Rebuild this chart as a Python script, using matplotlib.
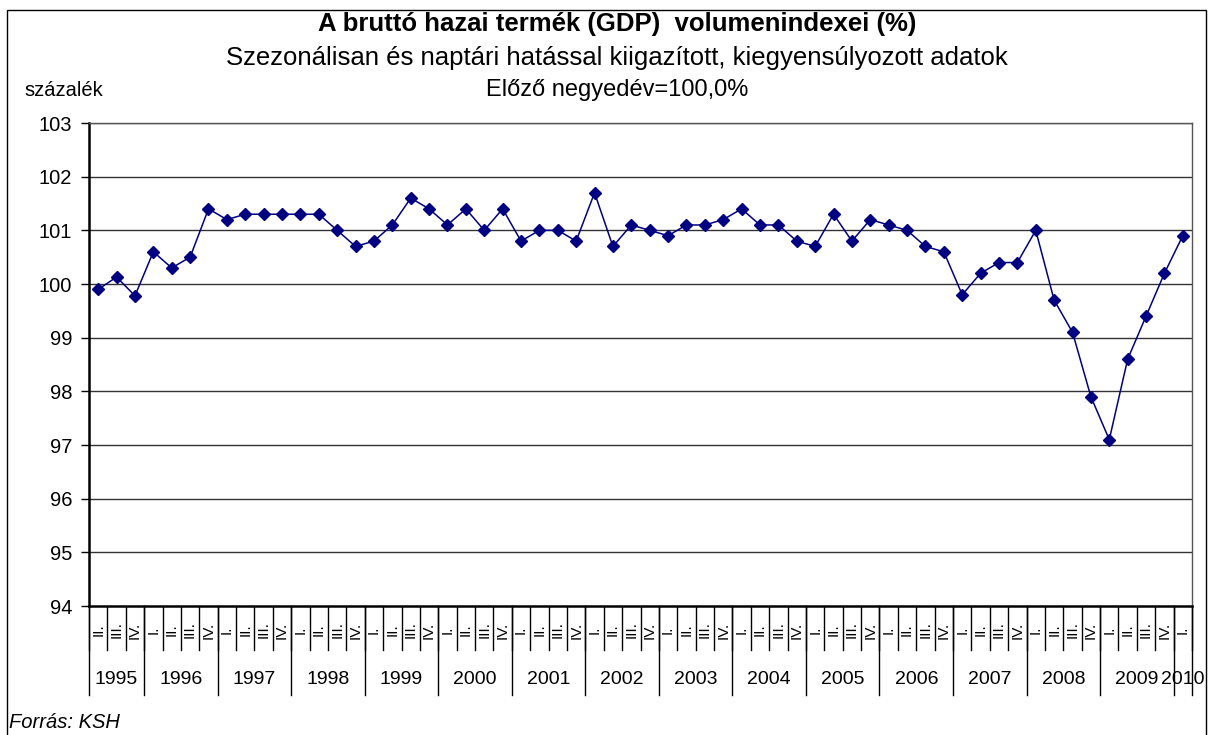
import matplotlib
matplotlib.use("Agg")
import matplotlib.pyplot as plt
from matplotlib.patches import Rectangle
from matplotlib.lines import Line2D
import matplotlib.transforms as mtransforms

plt.rcParams['font.family'] = ['Liberation Sans', 'DejaVu Sans']

years = ["1995", "1996", "1997", "1998", "1999", "2000", "2001", "2002",
         "2003", "2004", "2005", "2006", "2007", "2008", "2009", "2010"]
quarters_per_year = [3, 4, 4, 4, 4, 4, 4, 4, 4, 4, 4, 4, 4, 4, 4, 1]
first_quarter = [2, 1, 1, 1, 1, 1, 1, 1, 1, 1, 1, 1, 1, 1, 1, 1]
quarter_names = ["I.", "II.", "III.", "IV."]

values = [99.9, 100.13, 99.78,
          100.6, 100.3, 100.5, 101.4,
          101.2, 101.3, 101.3, 101.3,
          101.3, 101.3, 101.0, 100.7,
          100.8, 101.1, 101.6, 101.4,
          101.1, 101.4, 101.0, 101.4,
          100.8, 101.0, 101.0, 100.8,
          101.7, 100.7, 101.1, 101.0,
          100.9, 101.1, 101.1, 101.2,
          101.4, 101.1, 101.1, 100.8,
          100.7, 101.3, 100.8, 101.2,
          101.1, 101.0, 100.7, 100.6,
          99.8, 100.2, 100.4, 100.4,
          101.0, 99.7, 99.1, 97.9,
          97.1, 98.6, 99.4, 100.2,
          100.9]

title = "A bruttó hazai termék (GDP)  volumenindexei (%)"
subtitle1 = "Szezonálisan és naptári hatással kiigazított, kiegyensúlyozott adatok"
subtitle2 = "Előző negyedév=100,0%"
ylabel = "százalék"
source = "Forrás: KSH"
yticks = [94, 95, 96, 97, 98, 99, 100, 101, 102, 103]

W, H = 1210, 735
fig = plt.figure(figsize=(W / 100, H / 100), dpi=100)
fig.patch.set_facecolor("white")

# outer border
fig.patches.append(Rectangle((7 / W, -0.01), (1206 - 7) / W, 1 - 10 / H + 0.01,
                             transform=fig.transFigure, fill=False,
                             edgecolor="black", linewidth=1.0))

left, right, top, bottom = 89, 1192, 123, 606
ax = fig.add_axes([left / W, 1 - bottom / H, (right - left) / W, (bottom - top) / H])

n = len(values)
xs = [i + 0.5 for i in range(n)]
ax.plot(xs, values, color="#000080", linewidth=1.1, marker="D",
        markersize=6.5, markerfacecolor="#000080", markeredgecolor="#000080",
        zorder=5)

ax.set_xlim(0, n)
ax.set_ylim(94, 103)
ax.set_yticks(yticks)
ax.set_yticklabels([str(t) for t in yticks], fontsize=14.5)
ax.tick_params(axis="y", direction="out", length=6, width=1, pad=6, colors="black")
ax.set_xticks([])
ax.grid(False)
for yv in yticks[1:]:
    ax.axhline(yv, color="#333333", linewidth=1.0, zorder=1)

ax.spines["left"].set_linewidth(1.8)
ax.spines["left"].set_color("black")
ax.spines["bottom"].set_linewidth(1.8)
ax.spines["bottom"].set_color("black")
ax.spines["top"].set_linewidth(1.0)
ax.spines["top"].set_color("#555555")
ax.spines["right"].set_linewidth(1.0)
ax.spines["right"].set_color("#555555")

trans = mtransforms.blended_transform_factory(ax.transData, ax.transAxes)
ph = bottom - top
q_end = -(650 - bottom) / ph
y_end = -(695 - bottom) / ph
q_lab = -(630 - bottom) / ph
y_lab = -(680 - bottom) / ph

# quarter ticks and labels
pos = 0
year_bounds = [0]
for yi, (yr, nq, fq) in enumerate(zip(years, quarters_per_year, first_quarter)):
    for k in range(nq):
        qname = quarter_names[fq - 1 + k]
        ax.text(pos + k + 0.5, q_lab, qname, transform=trans, rotation=90,
                ha="center", va="center", fontsize=11, clip_on=False)
    ax.text(pos + nq / 2, y_lab, yr, transform=trans, ha="center", va="center",
            fontsize=14, clip_on=False)
    pos += nq
    year_bounds.append(pos)

for b in range(n + 1):
    ax.add_line(Line2D([b, b], [0, q_end], transform=trans, color="black",
                       linewidth=1.0, clip_on=False))
for b in year_bounds:
    ax.add_line(Line2D([b, b], [0, y_end], transform=trans, color="black",
                       linewidth=1.0, clip_on=False))

cx = 617 / W
fig.text(cx, 1 - 24 / H, title, ha="center", va="center", fontsize=18.5,
         fontweight="bold")
fig.text(cx, 1 - 58 / H, subtitle1, ha="center", va="center", fontsize=18.5)
fig.text(cx, 1 - 90 / H, subtitle2, ha="center", va="center", fontsize=17)
fig.text(24 / W, 1 - 90 / H, ylabel, ha="left", va="center", fontsize=14.5)
fig.text(9 / W, 1 - 722 / H, source, ha="left", va="center", fontsize=14.5,
         style="italic")

fig.savefig("out.png", dpi=100, facecolor="white")
